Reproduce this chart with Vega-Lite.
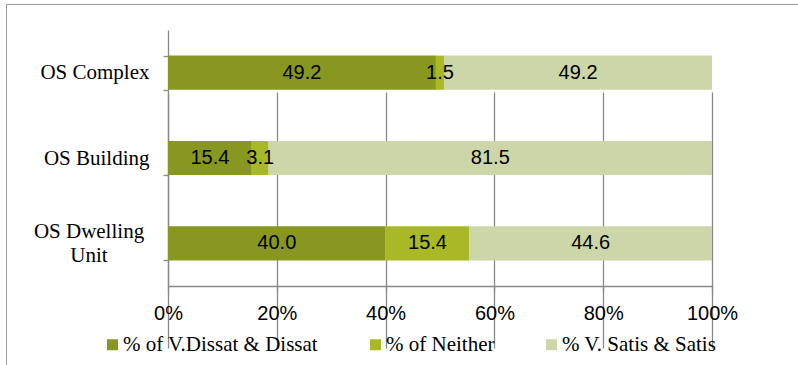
{
  "$schema": "https://vega.github.io/schema/vega-lite/v6.json",
  "width": 800,
  "height": 370,
  "autosize": {"type": "none"},
  "padding": {"left": 6, "top": 4, "right": 0, "bottom": 0},
  "background": "white",
  "config": {
    "view": {"stroke": "#9a9a9a", "strokeWidth": 1},
    "axis": {
      "domainColor": "#898989",
      "domainWidth": 1.3,
      "tickColor": "#898989",
      "tickWidth": 1.3,
      "gridColor": "#898989",
      "gridWidth": 1.3,
      "labelColor": "#000000",
      "title": null
    }
  },
  "data": {
    "values": [
      {"item": "OS Complex", "category": "% of V.Dissat & Dissat", "order": 1, "value": 49.2},
      {"item": "OS Complex", "category": "% of Neither", "order": 2, "value": 1.5},
      {"item": "OS Complex", "category": "% V. Satis & Satis", "order": 3, "value": 49.2},
      {"item": "OS Building", "category": "% of V.Dissat & Dissat", "order": 1, "value": 15.4},
      {"item": "OS Building", "category": "% of Neither", "order": 2, "value": 3.1},
      {"item": "OS Building", "category": "% V. Satis & Satis", "order": 3, "value": 81.5},
      {"item": "OS Dwelling Unit", "category": "% of V.Dissat & Dissat", "order": 1, "value": 40.0},
      {"item": "OS Dwelling Unit", "category": "% of Neither", "order": 2, "value": 15.4},
      {"item": "OS Dwelling Unit", "category": "% V. Satis & Satis", "order": 3, "value": 44.6}
    ]
  },
  "transform": [
    {
      "stack": "value",
      "groupby": ["item"],
      "offset": "normalize",
      "sort": [{"field": "order", "order": "ascending"}],
      "as": ["v0", "v1"]
    },
    {"calculate": "(datum.v0 + datum.v1) / 2", "as": "mid"}
  ],
  "encoding": {
    "y": {
      "field": "item",
      "type": "nominal",
      "sort": ["OS Complex", "OS Building", "OS Dwelling Unit"],
      "scale": {"range": [26, 282], "paddingInner": 0.6, "paddingOuter": 0.3},
      "axis": {
        "orient": "left",
        "offset": -162,
        "tickBand": "extent",
        "tickSize": 5,
        "grid": false,
        "labelFont": "Liberation Serif",
        "labelFontSize": 21,
        "labelPadding": {"condition": {"test": "datum.value == 'OS Dwelling Unit'", "value": 74.5}, "value": 14},
        "labelAlign": {"condition": {"test": "datum.value == 'OS Dwelling Unit'", "value": "center"}, "value": "right"},
        "labelOffset": {"condition": {"test": "datum.value == 'OS Dwelling Unit'", "value": -12}, "value": 0},
        "labelBaseline": "middle",
        "labelLineHeight": 24,
        "labelLimit": 300,
        "labelExpr": "datum.value == 'OS Dwelling Unit' ? ['OS Dwelling', 'Unit'] : datum.value"
      }
    }
  },
  "layer": [
    {
      "mark": {"type": "bar"},
      "encoding": {
        "x": {
          "field": "v0",
          "type": "quantitative",
          "scale": {"domain": [0, 1], "range": [162, 706], "nice": false},
          "axis": {
            "orient": "bottom",
            "offset": -88,
            "values": [0, 0.2, 0.4, 0.6, 0.8, 1],
            "format": ".0%",
            "grid": true,
            "tickSize": 6,
            "labelPadding": 11,
            "labelFont": "Liberation Sans",
            "labelFontSize": 20,
            "labelFlush": false,
            "labelOverlap": false,
            "title": null
          }
        },
        "x2": {"field": "v1"},
        "color": {
          "field": "category",
          "type": "nominal",
          "scale": {
            "domain": ["% of V.Dissat & Dissat", "% of Neither", "% V. Satis & Satis"],
            "range": ["#87971f", "#a9b826", "#cdd6a8"]
          },
          "legend": {
            "orient": "none",
            "legendX": 96,
            "legendY": 330,
            "padding": 0,
            "direction": "horizontal",
            "title": null,
            "symbolType": "square",
            "symbolSize": 121,
            "symbolStrokeWidth": 0,
            "symbolOpacity": 1,
            "labelFont": "Liberation Serif",
            "labelFontSize": 21,
            "labelColor": "#000000",
            "labelOffset": 0,
            "labelLimit": 400,
            "columnPadding": 46
          }
        }
      }
    },
    {
      "mark": {"type": "text", "font": "Liberation Sans", "fontSize": 20, "color": "#000000", "baseline": "middle"},
      "encoding": {
        "x": {"field": "mid", "type": "quantitative", "axis": {"title": null}},
        "text": {"field": "value", "type": "quantitative", "format": ".1f"}
      }
    }
  ]
}
